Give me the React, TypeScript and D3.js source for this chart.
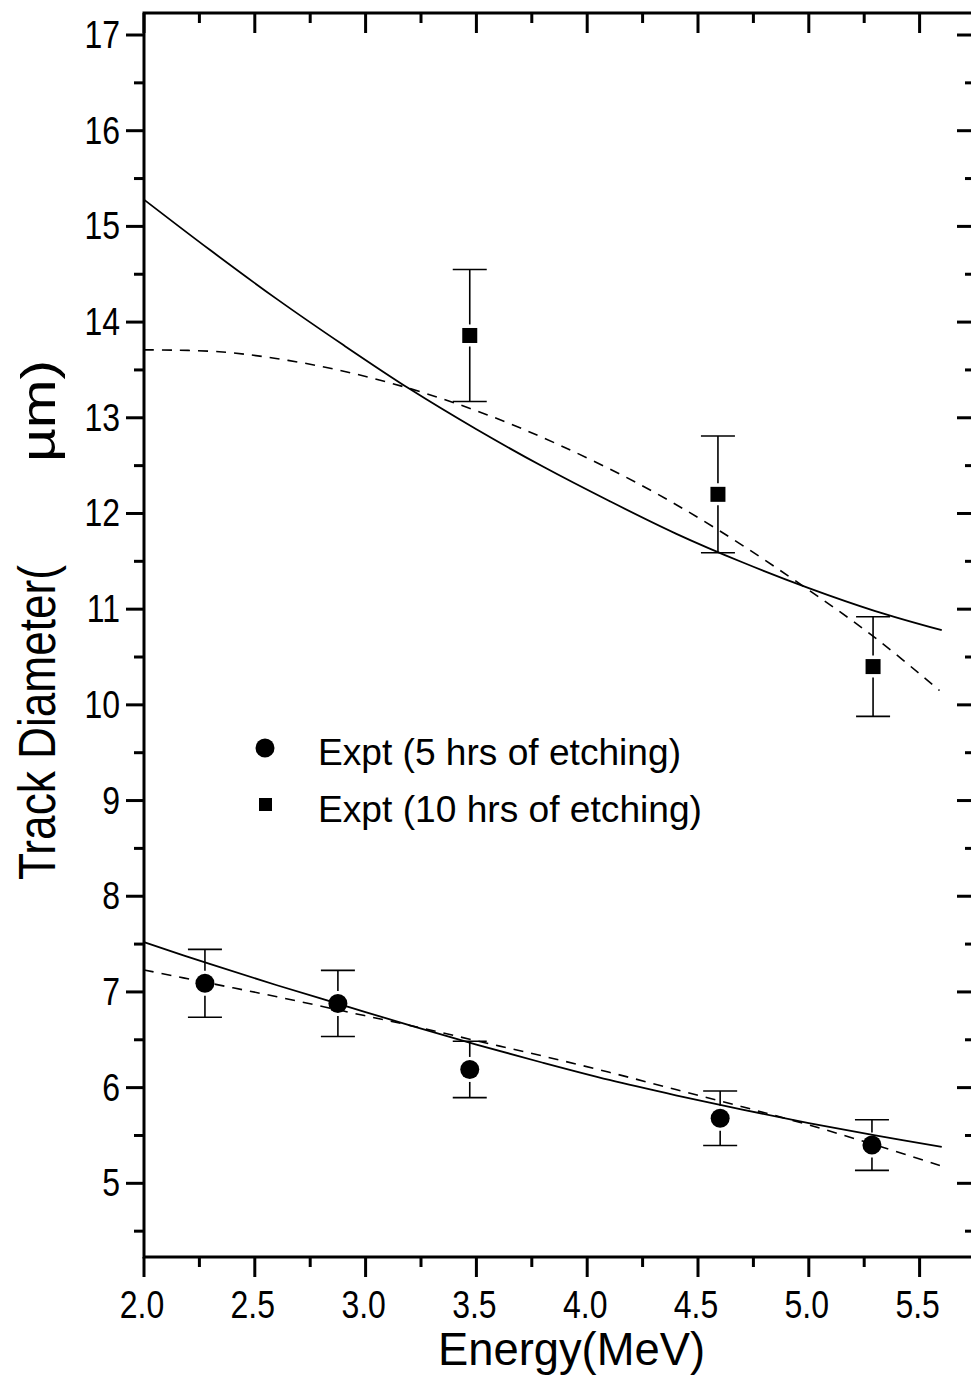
import React from "react";
import * as d3 from "d3";

// Experimental points: 5 hrs of etching (circles)
const exp5X = [2.275, 2.875, 3.47, 4.6, 5.285];
const exp5Y = [7.09, 6.88, 6.19, 5.68, 5.4];
const exp5Err = [0.355, 0.345, 0.295, 0.285, 0.265];

// Experimental points: 10 hrs of etching (squares)
const exp10X = [3.47, 4.59, 5.29];
const exp10Y = [13.86, 12.2, 10.4];
const exp10Err = [0.69, 0.61, 0.52];

// Solid curve, 10 hrs
const solid10X = [2.0, 2.3, 2.6, 2.9, 3.2, 3.5, 3.8, 4.1, 4.4, 4.7, 5.0, 5.3, 5.6];
const solid10Y = [15.28, 14.75, 14.24, 13.76, 13.3, 12.88, 12.49, 12.13, 11.79, 11.49, 11.22, 10.98, 10.78];
// Dashed curve, 10 hrs
const dash10X = [2.0, 2.34, 2.65, 2.95, 3.25, 3.55, 3.87, 4.24, 4.59, 5.0, 5.3, 5.59];
const dash10Y = [13.71, 13.69, 13.6, 13.46, 13.27, 13.03, 12.72, 12.3, 11.83, 11.2, 10.7, 10.15];
// Solid curve, 5 hrs
const solid5X = [2.0, 2.3, 2.6, 2.9, 3.2, 3.5, 3.8, 4.1, 4.4, 4.7, 5.0, 5.3, 5.6];
const solid5Y = [7.52, 7.29, 7.07, 6.86, 6.65, 6.45, 6.26, 6.08, 5.92, 5.77, 5.63, 5.5, 5.38];
// Dashed curve, 5 hrs
const dash5X = [2.0, 2.3, 2.6, 2.9, 3.2, 3.5, 3.8, 4.1, 4.4, 4.7, 5.0, 5.3, 5.6];
const dash5Y = [7.23, 7.09, 6.95, 6.8, 6.65, 6.49, 6.33, 6.16, 5.98, 5.8, 5.61, 5.4, 5.18];

const xMajor = [2.0, 2.5, 3.0, 3.5, 4.0, 4.5, 5.0, 5.5];
const xMinor = [2.25, 2.75, 3.25, 3.75, 4.25, 4.75, 5.25];
const yMajor = [5, 6, 7, 8, 9, 10, 11, 12, 13, 14, 15, 16, 17];
const yMinor = [4.5, 5.5, 6.5, 7.5, 8.5, 9.5, 10.5, 11.5, 12.5, 13.5, 14.5, 15.5, 16.5];

const legendLabels = ["Expt (5 hrs of etching)", "Expt (10 hrs of etching)"];

const W = 971;
const H = 1378;
const L = 144;
const R = 975;
const T = 13;
const B = 1257;
const FONT = "'Liberation Sans', Arial, sans-serif";
const NARROW = 0.82;

export default function App() {
  const x = d3.scaleLinear().domain([2.0, 5.75]).range([L, R]);
  const y = d3.scaleLinear().domain([4.23, 17.23]).range([B, T]);
  const line = d3
    .line<[number, number]>()
    .x((d) => x(d[0]))
    .y((d) => y(d[1]))
    .curve(d3.curveCatmullRom);
  const pts = (xs: number[], ys: number[]) => xs.map((v, i) => [v, ys[i]] as [number, number]);

  const cap = 17;
  const errBar = (cx: number, cy: number, e: number, half: number, key: string) => (
    <g key={key} stroke="#000" strokeWidth={1.6}>
      <line x1={x(cx)} x2={x(cx)} y1={y(cy + e)} y2={y(cy) - half - 3} />
      <line x1={x(cx)} x2={x(cx)} y1={y(cy) + half + 3} y2={y(cy - e)} />
      <line x1={x(cx) - cap} x2={x(cx) + cap} y1={y(cy + e)} y2={y(cy + e)} />
      <line x1={x(cx) - cap} x2={x(cx) + cap} y1={y(cy - e)} y2={y(cy - e)} />
    </g>
  );

  return (
    <svg
      width={W}
      height={H}
      style={{ position: "absolute", left: 0, top: 0, background: "#fff" }}
      fontFamily={FONT}
    >
      <rect x={0} y={0} width={W} height={H} fill="#fff" />
      {/* curves */}
      <path d={line(pts(solid10X, solid10Y)) || ""} fill="none" stroke="#000" strokeWidth={1.8} />
      <path d={line(pts(dash10X, dash10Y)) || ""} fill="none" stroke="#000" strokeWidth={1.6} strokeDasharray="10 8" />
      <path d={line(pts(solid5X, solid5Y)) || ""} fill="none" stroke="#000" strokeWidth={1.8} />
      <path d={line(pts(dash5X, dash5Y)) || ""} fill="none" stroke="#000" strokeWidth={1.6} strokeDasharray="10 8" />

      {/* error bars and markers */}
      {exp5X.map((v, i) => errBar(v, exp5Y[i], exp5Err[i], 9.5, "e5" + i))}
      {exp10X.map((v, i) => errBar(v, exp10Y[i], exp10Err[i], 8, "e10" + i))}
      {exp5X.map((v, i) => (
        <circle key={"c" + i} cx={x(v)} cy={y(exp5Y[i])} r={9.5} fill="#000" />
      ))}
      {exp10X.map((v, i) => (
        <rect key={"s" + i} x={x(v) - 7.5} y={y(exp10Y[i]) - 7.5} width={15} height={15} fill="#000" />
      ))}

      {/* frame */}
      <rect x={L} y={T} width={R - L} height={B - T} fill="none" stroke="#000" strokeWidth={3} />

      {/* x ticks */}
      {xMajor.map((v) => (
        <g key={"xm" + v} stroke="#000" strokeWidth={3}>
          <line x1={x(v)} x2={x(v)} y1={B} y2={B + 20} />
          <line x1={x(v)} x2={x(v)} y1={T} y2={T + 20} />
        </g>
      ))}
      {xMinor.map((v) => (
        <g key={"xn" + v} stroke="#000" strokeWidth={3}>
          <line x1={x(v)} x2={x(v)} y1={B} y2={B + 10} />
          <line x1={x(v)} x2={x(v)} y1={T} y2={T + 10} />
        </g>
      ))}
      {xMajor.map((v) => (
        <g key={"xl" + v} transform={`translate(${x(v) - 2},1318) scale(${NARROW},1)`}>
          <text x={0} y={0} fontSize={39} textAnchor="middle" fill="#000">
            {v.toFixed(1)}
          </text>
        </g>
      ))}

      {/* y ticks */}
      {yMajor.map((v) => (
        <g key={"ym" + v} stroke="#000" strokeWidth={3}>
          <line x1={L - 18} x2={L} y1={y(v)} y2={y(v)} />
          <line x1={R - 18} x2={R} y1={y(v)} y2={y(v)} />
        </g>
      ))}
      {yMinor.map((v) => (
        <g key={"yn" + v} stroke="#000" strokeWidth={3}>
          <line x1={L - 10} x2={L} y1={y(v)} y2={y(v)} />
          <line x1={R - 10} x2={R} y1={y(v)} y2={y(v)} />
        </g>
      ))}
      {yMajor.map((v) => (
        <g key={"yl" + v} transform={`translate(120,${y(v) + 13}) scale(${NARROW},1)`}>
          <text x={0} y={0} fontSize={39} textAnchor="end" fill="#000">
            {v}
          </text>
        </g>
      ))}

      {/* axis titles */}
      <text x={438} y={1365} fontSize={46} textLength={267} lengthAdjust="spacingAndGlyphs" fill="#000">
        Energy(MeV)
      </text>
      <text
        transform="translate(55,880) rotate(-90)"
        fontSize={51}
        textLength={315}
        lengthAdjust="spacingAndGlyphs"
        fill="#000"
      >
        Track Diameter(
      </text>
      <text
        transform="translate(55,462) rotate(-90)"
        fontSize={48}
        textLength={102}
        lengthAdjust="spacingAndGlyphs"
        fill="#000"
      >
        µm)
      </text>

      {/* legend */}
      <circle cx={265} cy={748} r={9.5} fill="#000" />
      <rect x={259} y={798} width={13} height={13} fill="#000" />
      <text x={318} y={765} fontSize={37} textLength={363} lengthAdjust="spacingAndGlyphs" fill="#000">
        {legendLabels[0]}
      </text>
      <text x={318} y={822} fontSize={37} textLength={384} lengthAdjust="spacingAndGlyphs" fill="#000">
        {legendLabels[1]}
      </text>
    </svg>
  );
}
